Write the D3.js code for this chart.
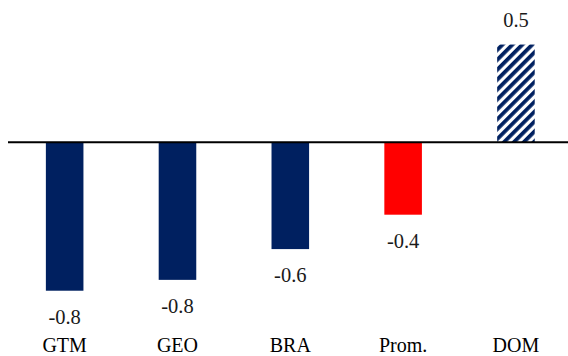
<!DOCTYPE html>
<html>
<head>
<meta charset="utf-8">
<script src="https://cdn.jsdelivr.net/npm/d3@7"></script>
<style>
  html, body { margin: 0; padding: 0; background: #ffffff; }
  svg { display: block; }
  text { font-family: "Liberation Serif", "Times New Roman", serif; }
</style>
</head>
<body>
<svg id="chart" width="568" height="356"></svg>
<script>
// Categories and values
const categories = ["GTM", "GEO", "BRA", "Prom.", "DOM"];
const values = [-0.82, -0.76, -0.59, -0.40, 0.54];
// Fill style per category: solid navy, red for the average, hatched for DOM
const fills = ["navy", "navy", "navy", "red", "hatch"];

const width = 568, height = 356;
const svg = d3.select("#chart");

const x = d3.scaleBand()
  .domain(categories)
  .range([8.3, 572.3])
  .paddingInner(0.667)
  .paddingOuter(0.333);

// zero line sits at y = 142.3, about 181 px per unit
const y = d3.scaleLinear()
  .domain([-1, 0.7])
  .range([142.3 + 181, 142.3 - 0.7 * 181]);

const colorMap = { navy: "#002060", red: "#ff0000", hatch: "url(#diag)" };

// diagonal stripe pattern
const defs = svg.append("defs");
const pat = defs.append("pattern")
  .attr("id", "diag")
  .attr("patternUnits", "userSpaceOnUse")
  .attr("width", 7)
  .attr("height", 7)
  .attr("patternTransform", "rotate(45)");
pat.append("rect").attr("width", 7).attr("height", 7).attr("fill", "#ffffff");
pat.append("rect").attr("width", 3.8).attr("height", 7).attr("fill", "#002060");

const data = categories.map((c, i) => ({ c, v: values[i], f: fills[i] }));

svg.append("g").selectAll("rect")
  .data(data)
  .join("rect")
  .attr("x", d => x(d.c))
  .attr("width", x.bandwidth())
  .attr("y", d => Math.min(y(0), y(d.v)))
  .attr("height", d => Math.abs(y(d.v) - y(0)))
  .attr("fill", d => colorMap[d.f]);

// zero line
svg.append("line")
  .attr("x1", 8).attr("x2", width)
  .attr("y1", y(0)).attr("y2", y(0))
  .attr("stroke", "#000000")
  .attr("stroke-width", 2);

// one decimal, plain hyphen for negatives
const fmt = v => d3.format(".1f")(v).replace("\u2212", "-");

// value labels
svg.append("g").selectAll("text")
  .data(data)
  .join("text")
  .attr("x", d => x(d.c) + x.bandwidth() / 2)
  .attr("y", d => d.v < 0 ? y(d.v) + 33 : y(d.v) - 18)
  .attr("text-anchor", "middle")
  .attr("font-size", "20.5px")
  .attr("fill", "#1a1a1a")
  .text(d => fmt(d.v));

// category labels
svg.append("g").selectAll("text")
  .data(data)
  .join("text")
  .attr("x", d => x(d.c) + x.bandwidth() / 2)
  .attr("y", 351.5)
  .attr("text-anchor", "middle")
  .attr("font-size", "20px")
  .attr("fill", "#000000")
  .text(d => d.c);
</script>
</body>
</html>
